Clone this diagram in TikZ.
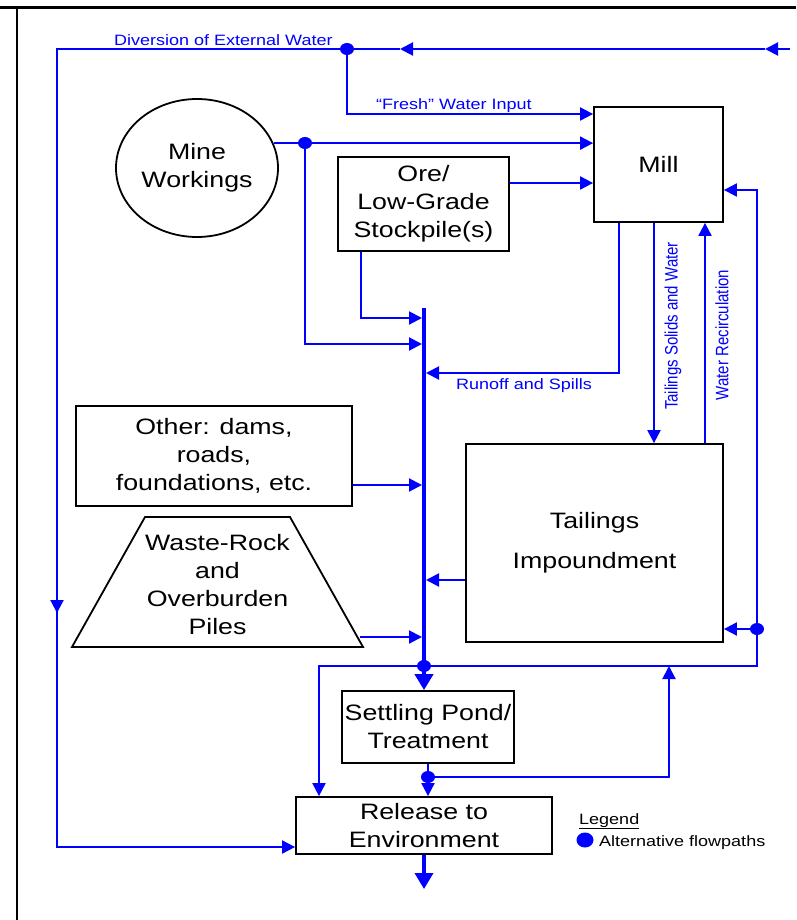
\documentclass[tikz,border=0pt]{standalone}
\usepackage{fontspec}
\setmainfont{Liberation Sans}[FakeStretch=1.2]
\newfontfamily\rotfont{Liberation Sans}[FakeStretch=0.8333]
\usetikzlibrary{arrows.meta,shapes.geometric}
\definecolor{fb}{RGB}{0,0,255}
\newcommand\bigfnt{\fontsize{22.3pt}{28pt}\selectfont}
\newcommand\lblfnt{\fontsize{15pt}{18pt}\selectfont}
\newcommand\rotfnt{\rotfont\fontsize{18pt}{20pt}\selectfont}
\tikzset{
  flow/.style={draw=fb, line width=2pt},
  arr/.style={-{Triangle[length=13pt,width=13pt]}},
  bigarr/.style={-{Triangle[length=16pt,width=18pt]}},
  box/.style={draw=black, line width=1.8pt, rectangle, inner sep=0pt, align=center, font=\bigfnt},
  dotn/.style={ellipse, fill=fb, minimum width=14pt, minimum height=12pt, inner sep=0pt},
  lbl/.style={text=fb, font=\lblfnt, inner sep=0pt},
  rotlbl/.style={text=fb, font=\rotfnt, inner sep=0pt, rotate=90}
}
\begin{document}
\begin{tikzpicture}[x=1pt,y=-1pt]
\useasboundingbox (0,0) rectangle (796,920);
% frame
\draw[line width=3pt] (0,8) -- (796,8);
\draw[line width=1.5pt] (17,8) -- (17,920);

% nodes
\node[ellipse, draw=black, line width=1.8pt, minimum width=162pt, minimum height=138pt, inner sep=0pt, font=\bigfnt, align=center] (mine) at (197,168) {Mine\\Workings};
\node[box, minimum width=171pt, minimum height=94pt] (ore) at (423.5,204) {Ore/\\Low-Grade\\Stockpile(s)};
\node[box, minimum width=129pt, minimum height=115pt] (mill) at (658.5,164.5) {Mill};
\node[box, minimum width=276pt, minimum height=100pt] (other) at (214,456) {Other: dams,\\roads,\\foundations, etc.};
\node[box, minimum width=257pt, minimum height=198pt] (tail) at (594.5,543) {Tailings\\[12pt]Impoundment};
\node[box, minimum width=172pt, minimum height=72pt] (settle) at (428,727) {Settling Pond/\\Treatment};
\node[box, minimum width=256pt, minimum height=57pt] (release) at (424,825.5) {Release to\\Environment};
\draw[line width=1.8pt, line join=miter] (145,517) -- (290,517) -- (363,647) -- (72,647) -- cycle;
\node[font=\bigfnt, align=center, inner sep=0pt] (waste) at (217.5,585) {Waste-Rock\\and\\Overburden\\Piles};

% junction dots
\node[dotn] (d1) at (347,49) {};
\node[dotn] (d2) at (305,143) {};
\node[dotn] (d3) at (424,666) {};
\node[dotn] (d4) at (757,629) {};
\node[dotn] (d5) at (428,777) {};

% collector bus
\coordinate (bustop) at (424,308);
\draw[fb, line width=4pt, bigarr] (bustop) -- (bustop |- settle.north);

% top line and left diversion
\coordinate (tr) at (790,49);
\coordinate (a1) at (765,49);
\coordinate (a2) at (400,49);
\coordinate (tl) at (57,49);
\coordinate (a3) at (57,613);
\coordinate (bl) at (57,847);
\draw[flow, arr] (tr) -- (a1);
\draw[flow, arr] (a1) -- (a2);
\draw[flow] (a2) -- (d1);
\draw[flow] (d1) -- (tl) -- (a3);
\draw[flow, arr] (tl) -- (a3);
\draw[flow, arr] (a3) -- (bl) -- (bl -| release.west);
\node[lbl, anchor=base west] (ldiv) at (114,45.5) {Diversion of External Water};

% fresh water
\coordinate (fw) at (347,114);
\draw[flow, arr] (d1) -- (fw) -- (fw -| mill.west);
\node[lbl, anchor=base west] (lfresh) at (376,109.5) {“Fresh” Water Input};

% mine workings
\draw[flow, arr] (mine.18.3) -- (mine.18.3 -| mill.west);
\coordinate (m1) at (305,344);
\draw[flow, arr] (d2) -- (m1) -- (422,344);

% ore stockpile
\coordinate (oe) at ([yshift=21pt]ore.east);
\draw[flow, arr] (oe) -- (oe -| mill.west);
\coordinate (ob) at ([xshift=-62.5pt]ore.south);
\coordinate (o1) at (361,318);
\draw[flow, arr] (ob) -- (o1) -- (422,318);

% runoff and spills
\coordinate (mb1) at ([xshift=-39.5pt]mill.south);
\coordinate (r1) at (619,373);
\draw[flow, arr] (mb1) -- (r1) -- (426,373);
\node[lbl, anchor=base west] (lrun) at (456,389) {Runoff and Spills};

% tailings solids and water recirculation
\draw[flow, arr] ([xshift=-4.5pt]mill.south) -- ([xshift=59.5pt]tail.north);
\draw[flow, arr] ([xshift=110.5pt]tail.north) -- ([xshift=46.5pt]mill.south);
\node[rotlbl] (lts) at (673,326) {Tailings Solids and Water};
\node[rotlbl] (lwr) at (722,335) {Water Recirculation};

% right recirculation loop
\coordinate (rl1) at (757,666);
\coordinate (rl2) at (757,190);
\draw[flow, arr] (d3) -- (rl1) -- (rl2) -- (rl2 -| mill.east);
\draw[flow, arr] (d4) -- (d4 -| tail.east);

% other, waste, tailings to bus
\coordinate (oth) at (other.east |- 0,485);
\draw[flow, arr] (oth) -- (422,485);
\coordinate (wst) at (360,637);
\draw[flow, arr] (wst) -- (422,637);
\coordinate (tw) at (tail.west |- 0,580);
\draw[flow, arr] (tw) -- (426,580);

% bypass to release
\coordinate (bp) at (319,666);
\draw[flow, arr] (d3) -- (bp) -- (bp |- release.north);

% settling pond outflow
\draw[flow] (settle.south) -- (d5);
\draw[flow, arr] (d5) -- (d5 |- release.north);
\coordinate (s1) at (669,777);
\coordinate (s2) at (669,666);
\draw[flow, arr] (d5) -- (s1) -- (s2);

% release outflow
\coordinate (out) at (424,889);
\draw[fb, line width=3.5pt, bigarr] (release.south) -- (out);

% legend
\node[anchor=base west, font=\lblfnt, inner sep=0pt] (leg) at (579,824) {\underline{Legend}};
\node[ellipse, fill=fb, minimum width=17pt, minimum height=15pt, inner sep=0pt] (ldot) at (585,840) {};
\node[anchor=base west, font=\lblfnt, inner sep=0pt] (ltext) at (599,846) {Alternative flowpaths};
\end{tikzpicture}
\end{document}
